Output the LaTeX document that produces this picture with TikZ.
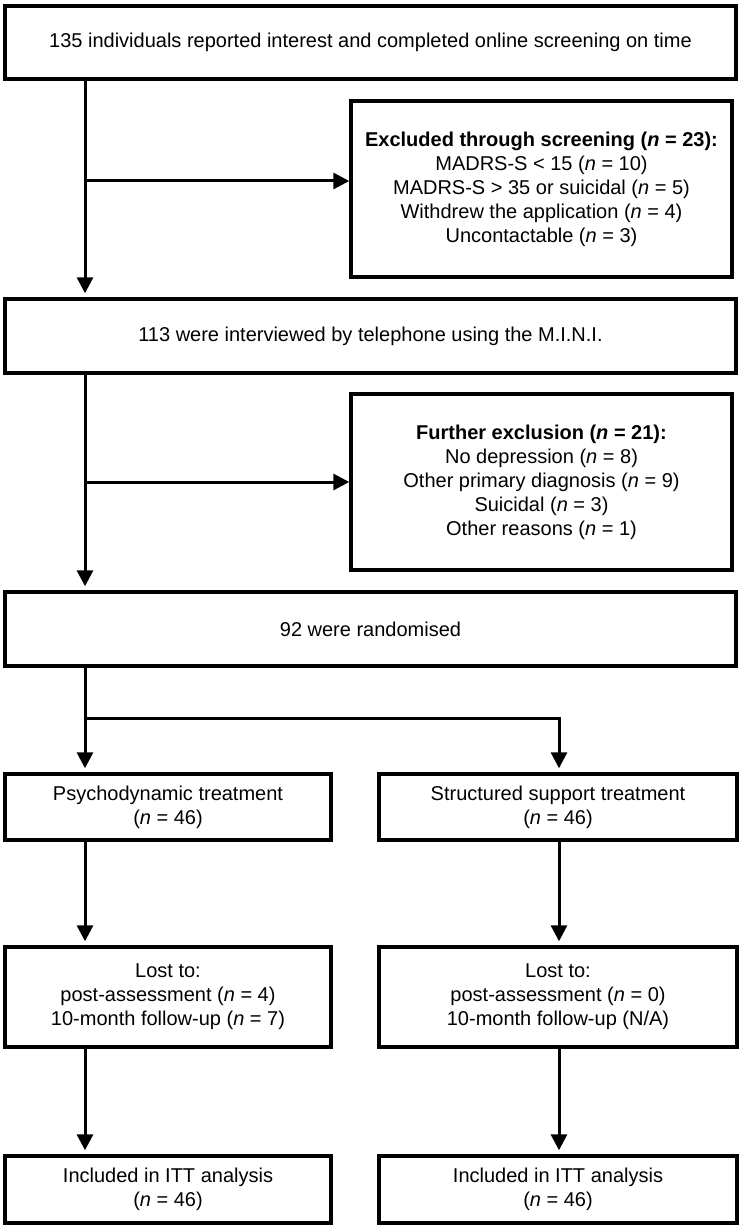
\documentclass[tikz,border=0pt]{standalone}
\usepackage{fontspec}
\setmainfont{Liberation Sans}
\usetikzlibrary{arrows.meta}
\begin{document}
\begin{tikzpicture}[x=1pt,y=-1pt,
  box/.style={draw, line width=3.4pt, inner sep=0pt, align=center,
    font=\fontsize{20}{24}\selectfont},
  conn/.style={line width=3pt, -{Triangle[width=16pt,length=16pt]}},
  plain/.style={line width=3pt}]
\useasboundingbox (0,0) rectangle (739,1230);
\fill[white] (0,0) rectangle (739,1230);
% boxes
\node[box, minimum width=731pt, minimum height=73pt] (a) at (370.5,42.5)
  {135 individuals reported interest and completed online screening on time};
\node[box, minimum width=381pt, minimum height=176pt] (e1) at (541.5,189)
  {\textbf{Excluded through screening (\textit{n} = 23):}\\
   MADRS-S < 15 (\textit{n} = 10)\\
   MADRS-S > 35 or suicidal (\textit{n} = 5)\\
   Withdrew the application (\textit{n} = 4)\\
   Uncontactable (\textit{n} = 3)};
\node[box, minimum width=731pt, minimum height=74pt] (b) at (370.5,336)
  {113 were interviewed by telephone using the M.I.N.I.};
\node[box, minimum width=381pt, minimum height=176pt] (e2) at (541.5,482)
  {\textbf{Further exclusion (\textit{n} = 21):}\\
   No depression (\textit{n} = 8)\\
   Other primary diagnosis (\textit{n} = 9)\\
   Suicidal (\textit{n} = 3)\\
   Other reasons (\textit{n} = 1)};
\node[box, minimum width=731pt, minimum height=74pt] (c) at (370.5,629)
  {92 were randomised};
\node[box, minimum width=326pt, minimum height=66pt] (p1) at (168,807)
  {Psychodynamic treatment\\(\textit{n} = 46)};
\node[box, minimum width=358pt, minimum height=66pt] (s1) at (558,807)
  {Structured support treatment\\(\textit{n} = 46)};
\node[box, minimum width=326pt, minimum height=100pt] (p2) at (168,997)
  {Lost to:\\post-assessment (\textit{n} = 4)\\10-month follow-up (\textit{n} = 7)};
\node[box, minimum width=358pt, minimum height=100pt] (s2) at (558,997)
  {Lost to:\\post-assessment (\textit{n} = 0)\\10-month follow-up (N/A)};
\node[box, minimum width=326pt, minimum height=67pt] (p3) at (168,1189.5)
  {Included in ITT analysis\\(\textit{n} = 46)};
\node[box, minimum width=358pt, minimum height=67pt] (s3) at (558,1189.5)
  {Included in ITT analysis\\(\textit{n} = 46)};
% helper coordinates
\coordinate (colx) at (85,0);
\coordinate (colr) at (559,0);
\coordinate (br1) at (85,181);
\coordinate (br2) at (85,482);
\coordinate (split) at (85,718);
\coordinate (splitr) at (559,718);
% connectors
\draw[conn, shorten >=4pt] (a.south -| colx) -- (b.north -| colx);
\draw[conn] (br1) -- (br1 -| e1.west);
\draw[conn, shorten >=4pt] (b.south -| colx) -- (c.north -| colx);
\draw[conn] (br2) -- (br2 -| e2.west);
\draw[conn, shorten >=4pt] (c.south -| colx) -- (p1.north -| colx);
\draw[plain, line cap=rect] (split) -- (splitr);
\draw[conn, shorten >=4pt] (splitr) -- (s1.north -| colr);
\draw[conn, shorten >=4pt] (p1.south -| colx) -- (p2.north -| colx);
\draw[conn, shorten >=4pt] (s1.south -| colr) -- (s2.north -| colr);
\draw[conn, shorten >=4pt] (p2.south -| colx) -- (p3.north -| colx);
\draw[conn, shorten >=4pt] (s2.south -| colr) -- (s3.north -| colr);
\end{tikzpicture}
\end{document}
